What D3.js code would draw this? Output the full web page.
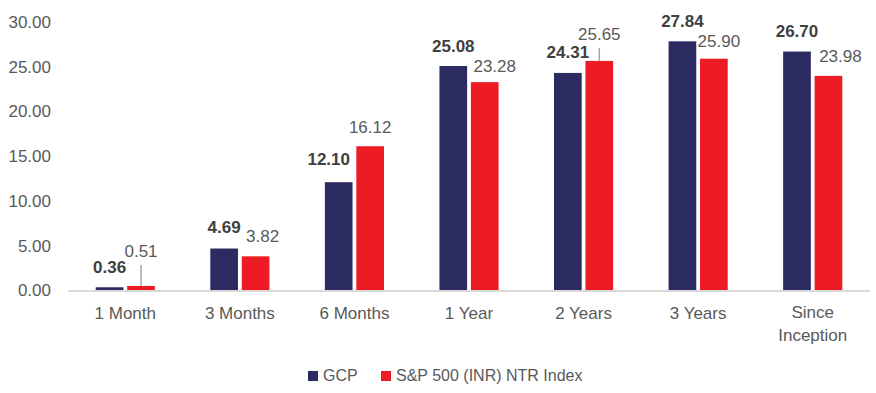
<!DOCTYPE html>
<html>
<head>
<meta charset="utf-8">
<script src="https://cdn.jsdelivr.net/npm/d3@7"></script>
<style>
  body { margin: 0; background: #fff; }
  text { font-family: "Liberation Sans", Arial, sans-serif; }
</style>
</head>
<body>
<div id="chart"></div>
<script>
var categories = ["1 Month", "3 Months", "6 Months", "1 Year", "2 Years", "3 Years", "Since Inception"];
var seriesNames = ["GCP", "S&P 500 (INR) NTR Index"];
var gcpValues = [0.36, 4.69, 12.10, 25.08, 24.31, 27.84, 26.70];
var indexValues = [0.51, 3.82, 16.12, 23.28, 25.65, 25.90, 23.98];
var yTicks = [0, 5, 10, 15, 20, 25, 30];

var w = 876;
var h = 393;
var colors = ["#2B2A61", "#ED1C24"];

// hand nudges of data labels, as in the original workbook
var gcpNudge = [[0, 0], [0, 2], [-10, 3], [0, 0], [0, 1], [0, 0], [0, 1]];
var idxNudge = [[0, 15], [7, 0], [0, -1], [10, -4], [0, 7], [5, -2], [12, 0]];
var leader = [true, false, false, false, true, false, false];

var svg = d3.select("#chart")
	.append("svg")
	.attr("width", w)
	.attr("height", h);

var x0 = d3.scaleBand()
	.domain(categories)
	.range([68, 870])
	.padding(0);

var bw = x0.bandwidth();
var x1 = d3.scaleBand()
	.domain(seriesNames)
	.range([bw * 0.242, bw * 0.758])
	.paddingInner(0.12);

var y = d3.scaleLinear()
	.domain([0, 30])
	.range([290.5, 22]);

// y tick labels
svg.selectAll("text.ytick")
	.data(yTicks)
	.enter()
	.append("text")
	.attr("class", "ytick")
	.attr("x", 51)
	.attr("y", d => y(d))
	.attr("dy", "0.35em")
	.attr("text-anchor", "end")
	.attr("font-size", 17)
	.attr("fill", "#595959")
	.text(d => d.toFixed(2));

var rows = categories.map((c, i) => ({
	cat: c,
	i: i,
	vals: [gcpValues[i], indexValues[i]]
}));

var groups = svg.selectAll("g.cat")
	.data(rows)
	.enter()
	.append("g")
	.attr("class", "cat")
	.attr("transform", d => "translate(" + x0(d.cat) + ",0)");

groups.selectAll("rect")
	.data(d => d.vals.map((v, k) => ({ s: seriesNames[k], k: k, v: v })))
	.enter()
	.append("rect")
	.attr("x", d => x1(d.s))
	.attr("y", d => y(d.v))
	.attr("width", x1.bandwidth())
	.attr("height", d => y(0) - y(d.v))
	.attr("fill", d => colors[d.k]);

// axis line
svg.append("line")
	.attr("x1", 68)
	.attr("x2", 870)
	.attr("y1", y(0) + 0.5)
	.attr("y2", y(0) + 0.5)
	.attr("stroke", "#D9D9D9")
	.attr("stroke-width", 2);

// GCP labels (bold)
groups.append("text")
	.attr("x", d => x1(seriesNames[0]) + x1.bandwidth() / 2 + gcpNudge[d.i][0])
	.attr("y", d => y(d.vals[0]) - 14 - gcpNudge[d.i][1])
	.attr("text-anchor", "middle")
	.attr("font-size", 17)
	.attr("font-weight", "bold")
	.attr("fill", "#404040")
	.text(d => d.vals[0].toFixed(2));

// index labels
groups.append("text")
	.attr("x", d => x1(seriesNames[1]) + x1.bandwidth() / 2 + idxNudge[d.i][0])
	.attr("y", d => y(d.vals[1]) - 14 - idxNudge[d.i][1])
	.attr("text-anchor", "middle")
	.attr("font-size", 17)
	.attr("fill", "#595959")
	.text(d => d.vals[1].toFixed(2));

// leader lines for raised labels
groups.filter(d => leader[d.i])
	.append("line")
	.attr("x1", x1(seriesNames[1]) + x1.bandwidth() / 2)
	.attr("x2", x1(seriesNames[1]) + x1.bandwidth() / 2)
	.attr("y1", d => y(d.vals[1]) - 14 - idxNudge[d.i][1] + 8)
	.attr("y2", d => y(d.vals[1]))
	.attr("stroke", "#A6A6A6")
	.attr("stroke-width", 1.5);

// category labels
var xl = groups.append("text")
	.attr("x", bw / 2)
	.attr("y", 319)
	.attr("text-anchor", "middle")
	.attr("font-size", 17)
	.attr("fill", "#595959");

xl.each(function(d) {
	var t = d3.select(this);
	if (d.cat == "Since Inception") {
		t.attr("y", 318);
		t.append("tspan").attr("x", bw / 2).text("Since");
		t.append("tspan").attr("x", bw / 2).attr("dy", 23).text("Inception");
	} else {
		t.text(d.cat);
	}
});

// legend
var legX = [308, 381];
var legend = svg.selectAll("g.leg")
	.data(seriesNames)
	.enter()
	.append("g")
	.attr("class", "leg")
	.attr("transform", (d, i) => "translate(" + legX[i] + ",371)");

legend.append("rect")
	.attr("width", 10)
	.attr("height", 10)
	.attr("fill", (d, i) => colors[i]);

legend.append("text")
	.attr("x", 15)
	.attr("y", 10)
	.attr("font-size", 16)
	.attr("fill", "#595959")
	.text(d => d);
</script>
</body>
</html>
